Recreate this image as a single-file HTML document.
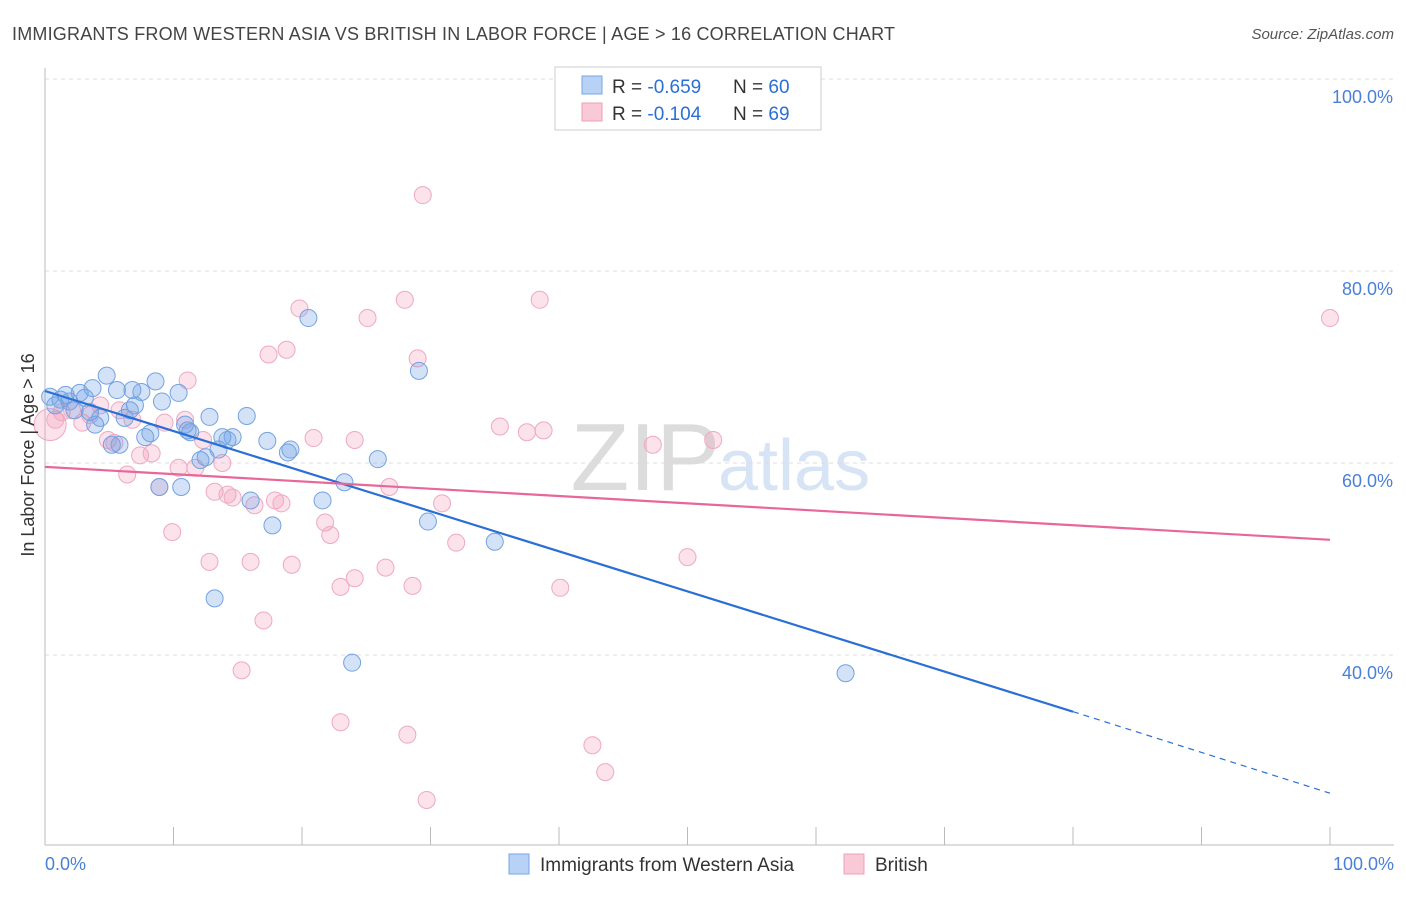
<!DOCTYPE html>
<html><head><meta charset="utf-8"><style>
body{margin:0;background:#fff;font-family:"Liberation Sans",sans-serif;}
svg text{font-family:"Liberation Sans",sans-serif;}
</style></head><body>
<svg id="chart" width="1406" height="892">
<text x="12" y="40" font-size="18" fill="#444" textLength="883">IMMIGRANTS FROM WESTERN ASIA VS BRITISH IN LABOR FORCE | AGE &gt; 16 CORRELATION CHART</text>
<text x="1394" y="39" font-size="15" fill="#555" font-style="italic" text-anchor="end">Source: ZipAtlas.com</text>
<text x="720" y="490" font-size="96" fill="#dcdcdc" text-anchor="end" font-family="Liberation Serif">ZIP</text>
<text x="718" y="490" font-size="72" fill="#d6e4f5">atlas</text>
<g id="grid"></g><g id="axes"></g><g id="pts"></g><g id="lines"></g>
<text transform="translate(34,455) rotate(-90)" font-size="18" fill="#333" text-anchor="middle">In Labor Force | Age &gt; 16</text>
<g>
<rect x="555" y="67" width="266" height="63" fill="#fff" stroke="#ccc"/>
<rect x="582" y="76" width="20" height="18" fill="#b8d2f5" stroke="#7aa6e6"/>
<rect x="582" y="103" width="20" height="18" fill="#f9c9d8" stroke="#f0a0b8"/>
<text x="612" y="93" font-size="19" fill="#333">R = <tspan fill="#2a6fd6">-0.659</tspan></text>
<text x="733" y="93" font-size="19" fill="#333">N = <tspan fill="#2a6fd6">60</tspan></text>
<text x="612" y="120" font-size="19" fill="#333">R = <tspan fill="#2a6fd6">-0.104</tspan></text>
<text x="733" y="120" font-size="19" fill="#333">N = <tspan fill="#2a6fd6">69</tspan></text>
</g>
<g>
<rect x="509" y="854" width="20" height="20" fill="#b8d2f5" stroke="#7aa6e6"/>
<text x="540" y="871" font-size="19" fill="#333">Immigrants from Western Asia</text>
<rect x="844" y="854" width="20" height="20" fill="#f9c9d8" stroke="#f0a0b8"/>
<text x="875" y="871" font-size="19" fill="#333">British</text>
</g>
</svg>
<script>
const blueX=[0.4,0.8,1.2,1.6,1.9,2.3,2.7,3.1,3.5,3.9,4.3,3.7,4.8,5.2,5.6,5.8,6.2,6.6,6.8,7.0,7.5,7.8,8.2,8.6,8.9,9.1,10.4,10.6,10.9,11.1,11.3,12.1,12.5,12.8,13.2,13.5,13.8,14.2,14.6,15.7,16.0,17.3,17.7,18.9,19.1,20.5,21.6,23.3,23.9,25.9,29.1,29.8,35.0,62.3];
const blueY=[66.9,66.0,66.6,67.1,66.4,65.5,67.3,66.8,65.3,64.0,64.7,67.8,69.1,61.9,67.6,61.9,64.7,65.5,67.6,66.0,67.4,62.7,63.1,68.5,57.5,66.4,67.3,57.5,64.0,63.4,63.2,60.3,60.6,64.8,45.9,61.4,62.7,62.4,62.7,64.9,56.1,62.3,53.5,61.1,61.4,75.1,56.1,58.0,39.2,60.4,69.6,53.9,51.8,38.1];
const pinkX=[0.4,0.8,1.3,2.1,2.9,3.5,4.3,4.9,5.4,5.8,6.4,6.8,7.4,8.3,8.9,9.3,9.9,10.4,10.9,11.1,11.7,12.3,12.8,13.2,13.8,14.2,14.6,15.3,16.0,16.3,17.0,17.4,17.9,18.4,18.8,19.2,19.8,20.9,21.8,22.2,23.0,23.0,24.1,24.1,25.1,26.5,26.8,28.0,28.2,28.6,29.0,29.4,29.7,30.9,32.0,35.4,37.5,38.5,38.8,40.1,42.6,43.6,47.3,50.0,52.0,100];
const pinkY=[64.0,64.5,65.3,65.5,64.2,65.0,66.0,62.4,62.1,65.5,58.8,64.5,60.8,61.0,57.5,64.2,52.8,59.5,64.5,68.6,59.5,62.4,49.7,57.0,60.0,56.7,56.4,38.4,49.7,55.6,43.6,71.3,56.1,55.8,71.8,49.4,76.1,62.6,53.8,52.5,33.0,47.1,48.0,62.4,75.1,49.1,57.5,77.0,31.7,47.2,70.9,87.9,24.9,55.8,51.7,63.8,63.2,77.0,63.4,47.0,30.6,27.8,61.9,50.2,62.4,75.1];
const blueTrend=[67.5,34.1,25.6];
const pinkTrend=[59.6,52.0];
const yTicks=[100,80,60,40];
const NS="http://www.w3.org/2000/svg";
const sx=v=>45+v*12.85, sy=v=>79+(100-v)*9.6;
function mk(tag,attrs,parent){const e=document.createElementNS(NS,tag);for(const k in attrs)e.setAttribute(k,attrs[k]);parent.appendChild(e);return e;}
const grid=document.getElementById('grid'),axes=document.getElementById('axes'),pts=document.getElementById('pts'),lines=document.getElementById('lines');
yTicks.forEach(t=>{
 const l=mk('line',{x1:45,x2:1394,y1:sy(t),y2:sy(t),stroke:'#ddd','stroke-dasharray':'4,4'},grid);
 
 
 const tx=mk('text',{x:1393,y:sy(t)+24,'font-size':18,fill:'#4a7fd8','text-anchor':'end'},grid);
 tx.textContent=t.toFixed(1)+'%';
 
 
});
const xa=mk('line',{x1:45,x2:1394,y1:845,y2:845,stroke:'#bbb'},axes);


const ya=mk('line',{x1:45,x2:45,y1:68,y2:845,stroke:'#bbb'},axes);


for(let i=0;i<=10;i++){const tk=mk('line',{x1:sx(i*10),x2:sx(i*10),y1:827,y2:845,stroke:'#bbb'},axes);
 
 }
const x0=mk('text',{x:45,y:870,'font-size':18,fill:'#4a7fd8'},axes);x0.textContent='0.0%';


const x1=mk('text',{x:1394,y:870,'font-size':18,fill:'#4a7fd8','text-anchor':'end'},axes);x1.textContent='100.0%';


pinkX.forEach((x,i)=>{const c=mk('circle',{cx:sx(x),cy:sy(pinkY[i]),r:i==0?16:8.5,fill:'rgba(243,160,190,0.3)',stroke:'#f0a8c0','stroke-width':1},pts);
 
 });
blueX.forEach((x,i)=>{const c=mk('circle',{cx:sx(x),cy:sy(blueY[i]),r:8.5,fill:'rgba(110,160,230,0.3)',stroke:'#74a2e2','stroke-width':1},pts);
 
 });
const bl=mk('line',{x1:sx(0),y1:sy(blueTrend[0]),x2:sx(80),y2:sy(blueTrend[1]),stroke:'#2a6fd6','stroke-width':2.2},lines);


const bd=mk('line',{x1:sx(80),y1:sy(blueTrend[1]),x2:sx(100),y2:sy(blueTrend[2]),stroke:'#2a6fd6','stroke-width':1.2,'stroke-dasharray':'6,5'},lines);


const pl=mk('line',{x1:sx(0),y1:sy(pinkTrend[0]),x2:sx(100),y2:sy(pinkTrend[1]),stroke:'#e8679a','stroke-width':2.2},lines);


</script>
</body></html>
